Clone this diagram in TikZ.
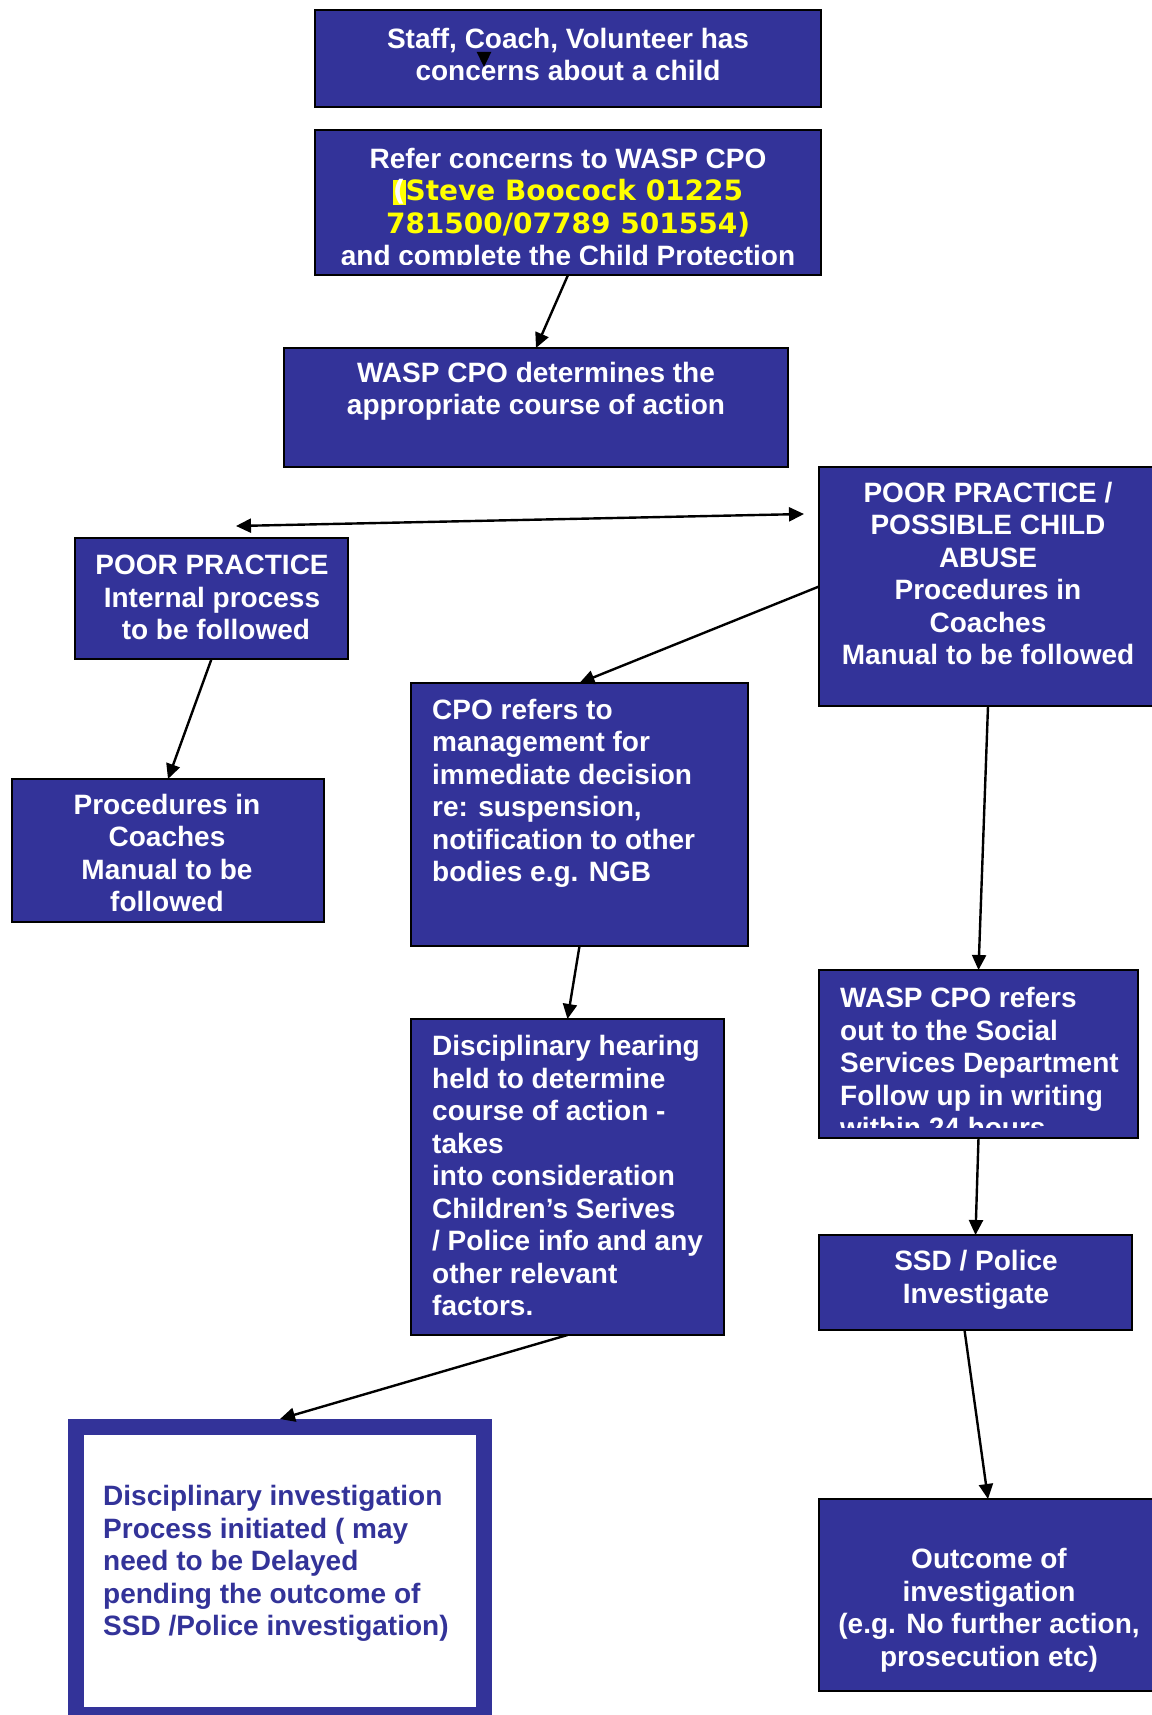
\documentclass[tikz,border=0pt]{standalone}
\usepackage{fontspec}
\setmainfont{Liberation Sans}
\newfontfamily\phonefont{DejaVu Sans}
\usetikzlibrary{arrows.meta}
\definecolor{boxblue}{RGB}{51,51,153}
\definecolor{hiyellow}{RGB}{255,255,0}
\tikzset{
    flowbox/.style={draw=black, line width=1.5pt, fill=boxblue, inner sep=0pt, outer sep=0pt, anchor=north west},
    boxtext/.style={text=white, font=\fontsize{28}{32.5}\selectfont\bfseries, inner sep=0pt},
    arr/.style={-{Triangle[length=15pt,width=14pt]}, line width=2.4pt},
}

\begin{document}
\begin{tikzpicture}[x=1pt, y=-1pt]
    \fill[white] (0,0) rectangle (1151,1715);
    \useasboundingbox (0,0) rectangle (1151,1715);
    % boxes
        \node[flowbox, minimum width=506pt, minimum height=97pt] (staff) at (315,10) {};
        \node[flowbox, minimum width=506pt, minimum height=145pt] (refer) at (315,130) {};
        \node[flowbox, minimum width=504pt, minimum height=119pt] (decide) at (284,348) {};
        \node[flowbox, minimum width=273pt, minimum height=121pt] (poor) at (75,538) {};
        \node[flowbox, minimum width=338pt, minimum height=239pt] (abuse) at (819,467) {};
        \node[flowbox, minimum width=312pt, minimum height=143pt] (manual) at (12,779) {};
        \node[flowbox, minimum width=337pt, minimum height=263pt] (mgmt) at (411,683) {};
        \node[flowbox, minimum width=313pt, minimum height=316pt] (hearing) at (411,1019) {};
        \node[draw=boxblue, line width=16pt, fill=white, inner sep=0pt, anchor=north west,
              minimum width=408pt, minimum height=288pt] (invest) at (68,1419) {};
        \node[flowbox, minimum width=319pt, minimum height=168pt] (ssdref) at (819,970) {};
        \node[flowbox, minimum width=313pt, minimum height=95pt] (police) at (819,1235) {};
        \node[flowbox, minimum width=338pt, minimum height=192pt] (outcome) at (819,1499) {};
    % texts
        \node[boxtext, anchor=north, align=center] (stafftxt) at (568,28)
            {Staff, Coach, Volunteer has\\concerns about a child};
        \begin{scope}
            \clip (refer.north west) rectangle ([yshift=11pt]refer.south east);
            \node[boxtext, anchor=north, align=center] (refertxt) at (568,148)
                {Refer concerns to WASP CPO\\
                {\phonefont\fboxsep=0pt\colorbox{hiyellow}{(}\color{hiyellow}Steve Boocock 01225}\\
                {\phonefont\color{hiyellow}781500/07789 501554)}\\
                and complete the Child Protection};
        \end{scope}
        \node[boxtext, anchor=north, align=center] (decidetxt) at (536,362)
            {WASP CPO determines the\\appropriate course of action};
        \node[boxtext, anchor=north, align=center] (poortxt) at (212,555)
            {POOR PRACTICE\\Internal process\\ \ to be followed};
        \node[boxtext, anchor=north, align=center] (abusetxt) at (988,482)
            {POOR PRACTICE /\\POSSIBLE CHILD\\ABUSE\\Procedures in\\Coaches\\Manual to be followed};
        \node[boxtext, anchor=north, align=center] (manualtxt) at (167,794)
            {Procedures in\\Coaches\\Manual to be\\followed};
        \node[boxtext, anchor=north west, align=left] (mgmttxt) at (432,699)
            {CPO refers to\\management for\\immediate decision\\re: suspension,\\notification to other\\bodies e.g. NGB};
        \node[boxtext, anchor=north west, align=left] (hearingtxt) at (432,1035)
            {Disciplinary hearing\\held to determine\\course of action -\\takes\\into consideration\\Children’s Serives\\/ Police info and any\\other relevant\\factors.};
        \node[boxtext, text=boxblue, anchor=north west, align=left] (investtxt) at (103,1485)
            {Disciplinary investigation\\Process initiated ( may\\need to be Delayed\\pending the outcome of\\SSD /Police investigation)};
        \begin{scope}
            \clip (ssdref.north west) rectangle ([yshift=11pt]ssdref.south east);
            \node[boxtext, anchor=north west, align=left] (ssdreftxt) at (840,987)
                {WASP CPO refers\\out to the Social\\Services Department\\Follow up in writing\\within 24 hours};
        \end{scope}
        \node[boxtext, anchor=north, align=center] (policetxt) at (976,1250)
            {SSD / Police\\Investigate};
        \node[boxtext, anchor=north, align=center] (outcometxt) at (989,1548)
            {Outcome of\\investigation\\(e.g. No further action,\\prosecution etc)};
    % connectors
        \coordinate (tiptop) at (484,52);
        \coordinate (tipend) at (484,67);
        \draw[arr] (tiptop) -- (tipend);
        \draw[arr] (refer.south) -- (decide.north);
        \coordinate (splitl) at (236,526);
        \coordinate (splitr) at (804,514);
        \draw[arr, {Triangle[length=15pt,width=14pt]}-{Triangle[length=15pt,width=14pt]}] (splitl) -- (splitr);
        \draw[arr] (poor.south) -- (manual.north);
        \draw[arr] (abuse.west) -- (mgmt.north);
        \draw[arr] (mgmt.south) -- (hearing.north);
        \draw[arr] (hearing.south) -- (invest.north);
        \draw[arr] (abuse.south) -- (ssdref.north);
        \draw[arr] (ssdref.south) -- (police.north);
        \draw[arr] ([xshift=-11pt]police.south) -- (outcome.north);
\end{tikzpicture}
\end{document}
